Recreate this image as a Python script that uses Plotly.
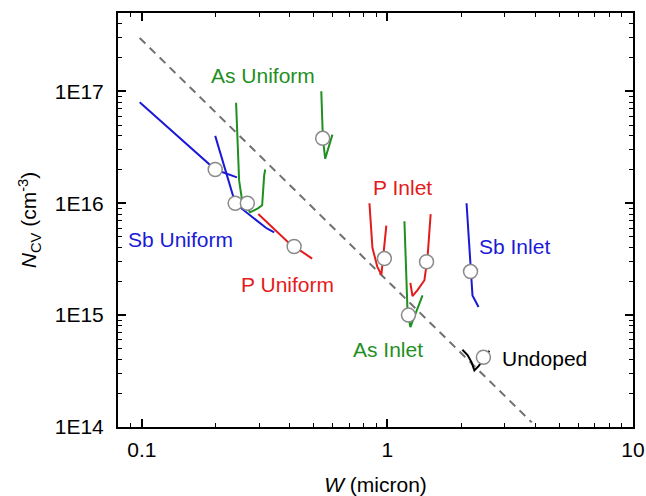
import math
import plotly.graph_objects as go

# ---------------- data (W in micron, N_CV in cm^-3) ----------------
sb_uni_a_x = [0.098, 0.199, 0.244]
sb_uni_a_y = [8.0e16, 2.0e16, 1.7e16]
sb_uni_b_x = [0.199, 0.237, 0.245, 0.266, 0.321, 0.330, 0.346]
sb_uni_b_y = [4.0e16, 1.1e16, 9.6e15, 8.3e15, 6.0e15, 5.8e15, 5.5e15]

as_uni_a_x = [0.242, 0.249, 0.256, 0.276, 0.297, 0.309, 0.315, 0.318]
as_uni_a_y = [7.9e16, 1.6e16, 1.06e16, 8.3e15, 9.0e15, 9.6e15, 1.78e16, 2.0e16]
as_uni_b_x = [0.538, 0.546, 0.558, 0.597]
as_uni_b_y = [1.0e17, 3.8e16, 2.5e16, 4.1e16]

p_uni_x = [0.298, 0.398, 0.494]
p_uni_y = [8.0e15, 4.4e15, 3.2e15]

p_in_a_x = [0.845, 0.869, 0.910, 0.945, 0.990]
p_in_a_y = [1.0e16, 4.0e15, 2.7e15, 2.3e15, 6.3e15]
p_in_b_x = [1.50, 1.457, 1.415, 1.326, 1.265, 1.24]
p_in_b_y = [8.0e15, 3.3e15, 2.05e15, 1.67e15, 1.48e15, 1.94e15]

as_in_x = [1.173, 1.196, 1.207, 1.24, 1.39]
as_in_y = [6.9e15, 2.4e15, 1.11e15, 7.8e14, 1.5e15]

sb_in_x = [2.10, 2.16, 2.20, 2.22, 2.35]
sb_in_y = [1.0e16, 3.3e15, 2.05e15, 1.5e15, 1.18e15]

undoped_x = [2.02, 2.12, 2.20, 2.26, 2.35, 2.42, 2.60]
undoped_y = [4.9e14, 4.4e14, 3.8e14, 3.2e14, 3.5e14, 3.8e14, 4.8e14]

guide_x = [0.098, 3.87]
guide_y = [3.0e17, 1.1e14]

circle_x = [0.199, 0.240, 0.269, 0.545, 0.417, 0.972, 1.443, 1.218, 2.18, 2.46]
circle_y = [2.0e16, 1.0e16, 1.0e16, 3.8e16, 4.1e15, 3.2e15, 3.0e15, 1.0e15, 2.45e15, 4.2e14]

labels = ["As Uniform", "Sb Uniform", "P Uniform", "P Inlet", "Sb Inlet", "As Inlet", "Undoped"]
label_x = [0.312, 0.144, 0.391, 1.15, 3.30, 1.01, 4.37]
label_y = [1.38e17, 4.7e15, 1.86e15, 1.38e16, 4.1e15, 4.9e14, 4.1e14]

x_tickvals = [0.1, 1, 10]
x_ticktext = ["0.1", "1", "10"]
y_tickvals = [1e14, 1e15, 1e16, 1e17]
y_ticktext = ["1E14", "1E15", "1E16", "1E17"]

# ---------------- styles ----------------
BLUE = "#1a1ad6"
RED = "#e41b1b"
GREEN = "#1f8f1f"
BLACK = "#000000"
FONT = "Liberation Sans, Arial, sans-serif"

fig = go.Figure()

fig.add_trace(go.Scatter(x=guide_x, y=guide_y, mode="lines",
                         line=dict(color="#707070", width=2, dash="8px,6px")))

series = [
    (sb_uni_a_x, sb_uni_a_y, BLUE),
    (sb_uni_b_x, sb_uni_b_y, BLUE),
    (as_uni_a_x, as_uni_a_y, GREEN),
    (as_uni_b_x, as_uni_b_y, GREEN),
    (p_uni_x, p_uni_y, RED),
    (p_in_a_x, p_in_a_y, RED),
    (p_in_b_x, p_in_b_y, RED),
    (as_in_x, as_in_y, GREEN),
    (sb_in_x, sb_in_y, BLUE),
    (undoped_x, undoped_y, BLACK),
]
for xs, ys, c in series:
    fig.add_trace(go.Scatter(x=xs, y=ys, mode="lines",
                             line=dict(color=c, width=2)))

fig.add_trace(go.Scatter(x=circle_x, y=circle_y, mode="markers",
                         marker=dict(symbol="circle", size=14, color="white",
                                     line=dict(color="#8a8a8a", width=1.5))))

label_colors = [GREEN, BLUE, RED, RED, BLUE, GREEN, BLACK]
for t, lx, ly, c in zip(labels, label_x, label_y, label_colors):
    # annotation positions on log axes are given in log10 units
    fig.add_annotation(x=math.log10(lx), y=math.log10(ly), text=t, showarrow=False,
                       xref="x", yref="y", xanchor="center", yanchor="middle",
                       font=dict(family=FONT, size=21, color=c))

def minor_vals(lo, hi):
    out = []
    for d in range(lo, hi):
        for m in range(2, 10):
            out.append(m * 10 ** d)
    return out

axis_common = dict(
    type="log", showgrid=False, zeroline=False, automargin=False,
    showline=True, linecolor="black", linewidth=2, mirror="allticks",
    ticks="inside", ticklen=8, tickwidth=1.5, tickcolor="black",
    tickfont=dict(family=FONT, size=21, color="black"),
)

fig.update_xaxes(
    **axis_common,
    range=[-1.097, 1.0],
    tickmode="array", tickvals=x_tickvals, ticktext=x_ticktext,
    ticklabelstandoff=3,
    minor=dict(ticks="inside", ticklen=4, tickwidth=1.2, tickcolor="black",
               tickmode="array", tickvals=minor_vals(-2, 1), showgrid=False),
    title=dict(text="<i>W</i> (micron)", font=dict(family=FONT, size=21, color="black"),
               standoff=18),
)
fig.update_yaxes(
    **axis_common,
    range=[14.0, 17.7],
    tickmode="array", tickvals=y_tickvals, ticktext=y_ticktext,
    ticklabelstandoff=8,
    minor=dict(ticks="inside", ticklen=4, tickwidth=1.2, tickcolor="black",
               tickmode="array", tickvals=minor_vals(14, 18), showgrid=False),
    title=dict(text="<i>N</i><sub>CV</sub> (cm<sup>-3</sup>)",
               font=dict(family=FONT, size=21, color="black"), standoff=12),
)

fig.update_layout(
    width=646, height=496,
    margin=dict(l=118, r=13, t=13, b=69),
    paper_bgcolor="white", plot_bgcolor="white",
    showlegend=False,
    font=dict(family=FONT),
)

fig.write_html("out.html")
